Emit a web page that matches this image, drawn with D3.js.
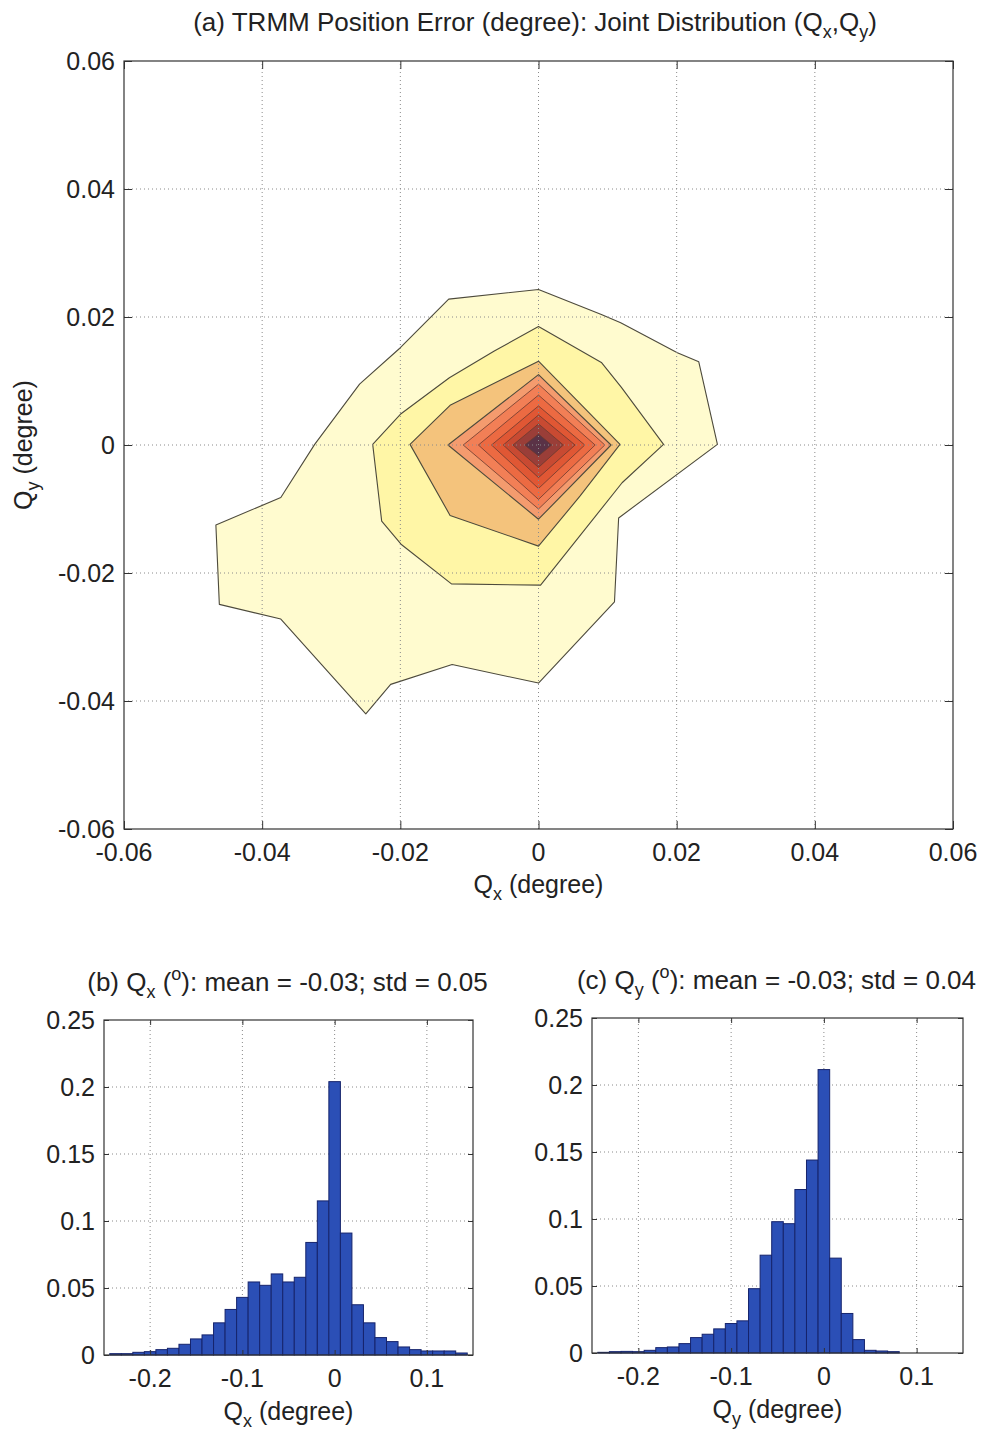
<!DOCTYPE html>
<html><head><meta charset="utf-8">
<script src="https://cdn.jsdelivr.net/npm/d3@7"></script>
<style>
body{margin:0;background:#fff}
text{font-family:"Liberation Sans",Arial,sans-serif;fill:#222}
</style>
</head><body>
<svg id="chart" width="983" height="1433"></svg>
<script>
// ---------------- DATA ----------------
// (a) joint distribution: tick values (degree)
const jointTicks = [-0.06, -0.04, -0.02, 0, 0.02, 0.04, 0.06];
// filled contour levels, outermost (lowest density) to innermost (peak)
const contourLevels = [1, 2, 3, 4, 5, 6, 7, 8, 9, 10];
// contour rings as [Qx, Qy] vertices (degree), one per level
const contourRings = [
  [[0,0.0243],[0.0091,0.0204],[0.0119,0.0191],[0.0201,0.0144],[0.0232,0.0130],[0.0259,0.0001],
   [0.0116,-0.0114],[0.0110,-0.0245],[0,-0.0372],[-0.0125,-0.0343],[-0.0214,-0.0374],[-0.0250,-0.0420],
   [-0.0373,-0.0272],[-0.0462,-0.0249],[-0.0467,-0.0125],[-0.0373,-0.0082],[-0.0324,0.0001],
   [-0.0259,0.0095],[-0.0200,0.0152],[-0.0130,0.0228]],
  [[0,0.0185],[0.0091,0.0129],[0.0120,0.0090],[0.0181,0.0001],[0.0121,-0.0059],[0.0003,-0.0219],
   [-0.0126,-0.0217],[-0.0199,-0.0155],[-0.0227,-0.0119],[-0.0240,0.0001],[-0.0200,0.0048],
   [-0.0129,0.0105],[-0.0064,0.0147]],
  [[0,0.0131],[0.0118,0.0001],[0.0060,-0.0080],[0,-0.0158],[-0.0128,-0.0110],[-0.0186,0.0001],[-0.0128,0.0062]],
  [[0,0.0110],[0.0105,0],[0,-0.0116],[-0.0131,0]],
  [[0,0.0095],[0.0096,0],[0,-0.0100],[-0.0109,0]],
  [[0,0.0078],[0.0082,0],[0,-0.0085],[-0.0087,0]],
  [[0,0.0061],[0.0067,0],[0,-0.0068],[-0.0068,0]],
  [[0,0.0047],[0.0053,0],[0,-0.0051],[-0.0051,0]],
  [[0,0.0033],[0.0036,0],[0,-0.0035],[-0.0037,0]],
  [[0,0.0017],[0.0019,0],[0,-0.0017],[-0.0020,0]]
];

// (b) Qx histogram
const histBinWidth = 0.0125;
const qxBinCenters = [-0.2375,-0.225,-0.2125,-0.2,-0.1875,-0.175,-0.1625,-0.15,-0.1375,-0.125,-0.1125,-0.1,
  -0.0875,-0.075,-0.0625,-0.05,-0.0375,-0.025,-0.0125,0,0.0125,0.025,0.0375,0.05,0.0625,0.075,0.0875,0.1,
  0.1125,0.125,0.1375];
const qxFreq = [0.001,0.001,0.002,0.0025,0.004,0.005,0.008,0.012,0.015,0.024,0.034,0.043,
  0.0545,0.052,0.0605,0.0545,0.058,0.084,0.115,0.204,0.091,0.0375,0.024,0.013,0.010,0.006,0.004,0.003,
  0.003,0.003,0.0015];
// (c) Qy histogram
const qyBinCenters = [-0.2375,-0.225,-0.2125,-0.2,-0.1875,-0.175,-0.1625,-0.15,-0.1375,-0.125,-0.1125,-0.1,
  -0.0875,-0.075,-0.0625,-0.05,-0.0375,-0.025,-0.0125,0,0.0125,0.025,0.0375,0.05,0.0625,0.075];
const qyFreq = [0.0005,0.001,0.0012,0.001,0.002,0.004,0.0045,0.007,0.0115,0.014,0.018,0.022,
  0.024,0.048,0.073,0.098,0.0965,0.122,0.144,0.2115,0.0708,0.0295,0.010,0.002,0.0015,0.001];
const histXTicks = [-0.2, -0.1, 0, 0.1];
const histYTicks = [0, 0.05, 0.1, 0.15, 0.2, 0.25];

// ---------------- STYLE ----------------
const contourColors = ["#FFFBCF","#FFF6A6","#F4C37C","#F49B6E","#F27F56","#EC6A42","#E05734",
  "#C84A32","#9A3E38","#5A3246"];
const FS = 25, TFS = 26;

const svg = d3.select("#chart");
svg.append("rect").attr("width",983).attr("height",1433).attr("fill","#fff");

const fmt = d => d === 0 ? "0" : String(d);

function frameAndTicks(g, x, y, xt, yt, tick, gridOnTop, drawContent) {
  const [x0, x1] = x.range(), [y0, y1] = y.range(); // y0 bottom, y1 top
  const grid = () => {
    const gg = g.append("g").attr("stroke","#8a8a8a").attr("stroke-width",1)
      .attr("stroke-dasharray","1,3");
    gg.selectAll(".gx").data(xt.filter(v => x(v) > x0+1 && x(v) < x1-1)).join("line")
      .attr("x1", d => x(d)).attr("x2", d => x(d)).attr("y1", y0).attr("y2", y1);
    gg.selectAll(".gy").data(yt.filter(v => y(v) < y0-1 && y(v) > y1+1)).join("line")
      .attr("y1", d => y(d)).attr("y2", d => y(d)).attr("x1", x0).attr("x2", x1);
  };
  if (!gridOnTop) grid();
  drawContent();
  if (gridOnTop) grid();
  const ax = (axis, tr) => {
    const a = g.append("g").attr("transform", tr).call(axis);
    a.select(".domain").remove();
    a.selectAll(".tick line").attr("stroke","#333");
    a.selectAll(".tick text").remove();
  };
  ax(d3.axisBottom(x).tickValues(xt).tickSize(-tick), `translate(0,${y0})`);
  ax(d3.axisTop(x).tickValues(xt).tickSize(-tick), `translate(0,${y1})`);
  ax(d3.axisLeft(y).tickValues(yt).tickSize(-tick), `translate(${x0},0)`);
  ax(d3.axisRight(y).tickValues(yt).tickSize(-tick), `translate(${x1},0)`);
  g.append("rect").attr("x", x0).attr("y", y1).attr("width", x1-x0).attr("height", y0-y1)
    .attr("fill","none").attr("stroke","#333").attr("stroke-width",1.2);
  g.selectAll(".xl").data(xt).join("text")
    .attr("x", d => x(d)).attr("y", y0 + 32).attr("text-anchor","middle")
    .attr("font-size", FS).text(fmt);
  g.selectAll(".yl").data(yt).join("text")
    .attr("x", x0 - 9).attr("y", d => y(d) + 9).attr("text-anchor","end")
    .attr("font-size", FS).text(fmt);
}

function richText(g, x, y, parts, size, rotate) {
  const t = g.append("text").attr("x", x).attr("y", y).attr("text-anchor", "middle")
    .attr("font-size", size);
  if (rotate) t.attr("transform", `rotate(${rotate},${x},${y})`);
  let shift = 0;
  parts.forEach(p => {
    const s = t.append("tspan").text(p.t);
    let target = p.sub ? 7 : p.sup ? -11 : 0;
    if (target !== shift) { s.attr("dy", target - shift); shift = target; }
    if (p.sub || p.sup) s.attr("font-size", 18);
  });
  return t;
}

// ---------------- (a) Joint distribution ----------------
{
  const x = d3.scaleLinear([-0.06, 0.06], [124, 953]);
  const y = d3.scaleLinear([-0.06, 0.06], [829, 61]);
  const g = svg.append("g");
  const line = d3.line().x(d => x(d[0])).y(d => y(d[1])).curve(d3.curveLinearClosed);
  frameAndTicks(g, x, y, jointTicks, jointTicks, 8, true, () => {
    g.append("g").selectAll("path").data(contourLevels).join("path")
      .attr("d", (lv, i) => line(contourRings[i]))
      .attr("fill", (lv, i) => contourColors[i])
      .attr("stroke", (lv, i) => i < 4 ? "#4d4a3c" : "#6a3a2e")
      .attr("stroke-width", (lv, i) => i < 4 ? 1.1 : 0.8)
      .attr("stroke-linejoin","round");
  });
  richText(g, 535, 31, [
    {t:"(a) TRMM Position Error (degree): Joint Distribution (Q"},{t:"x",sub:1},{t:",Q"},{t:"y",sub:1},{t:")"}], TFS);
  richText(g, (124+953)/2, 893, [{t:"Q"},{t:"x",sub:1},{t:" (degree)"}], FS);
  richText(g, 32, 445, [{t:"Q"},{t:"y",sub:1},{t:" (degree)"}], FS, -90);
}

// ---------------- histograms ----------------
function hist(xr, yr, centers, freq, title, label) {
  const x = d3.scaleLinear([-0.25, 0.15], xr);
  const y = d3.scaleLinear([0, 0.25], yr);
  const g = svg.append("g");
  frameAndTicks(g, x, y, histXTicks, histYTicks, 5, false, () => {
    g.append("g").selectAll("rect").data(centers).join("rect")
      .attr("x", d => x(d - histBinWidth/2))
      .attr("width", d => x(d + histBinWidth/2) - x(d - histBinWidth/2))
      .attr("y", (d, i) => y(freq[i]))
      .attr("height", (d, i) => y(0) - y(freq[i]))
      .attr("fill", "#2B4FB6").attr("stroke", "#16246C").attr("stroke-width", 1);
  });
  const cx = (xr[0] + xr[1]) / 2;
  richText(g, cx - 1, yr[1] - 29, title, TFS);
  richText(g, cx, yr[0] + 65, label, FS);
}
hist([104, 473], [1355, 1020], qxBinCenters, qxFreq,
  [{t:"(b) Q"},{t:"x",sub:1},{t:" ("},{t:"o",sup:1},{t:"): mean = -0.03; std = 0.05"}],
  [{t:"Q"},{t:"x",sub:1},{t:" (degree)"}]);
hist([592, 963], [1353, 1018], qyBinCenters, qyFreq,
  [{t:"(c) Q"},{t:"y",sub:1},{t:" ("},{t:"o",sup:1},{t:"): mean = -0.03; std = 0.04"}],
  [{t:"Q"},{t:"y",sub:1},{t:" (degree)"}]);
</script>
</body></html>
